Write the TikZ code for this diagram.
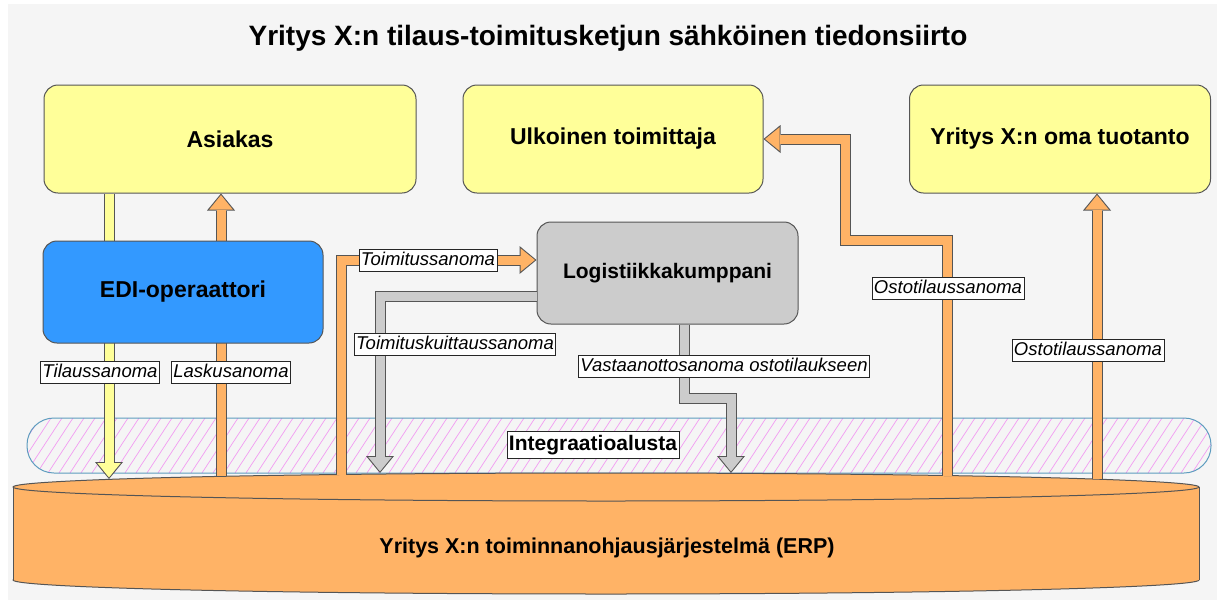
\documentclass[tikz,border=0pt]{standalone}
\usepackage{fontspec}
\setmainfont{Liberation Sans}
\usepackage{xcolor}
\usepackage{tikz}
\usetikzlibrary{arrows.meta}

\definecolor{bggray}{HTML}{F5F5F5}
\definecolor{boxyellow}{HTML}{FFFF99}
\definecolor{boxblue}{HTML}{3399FF}
\definecolor{boxgray}{HTML}{CCCCCC}
\definecolor{erporange}{HTML}{FFB366}
\definecolor{linegray}{HTML}{555555}
\definecolor{bandblue}{HTML}{5E9CBF}
\definecolor{hatchpink}{HTML}{F29CF2}

\tikzset{
	box/.style={draw=linegray, line width=1pt, rounded corners=14pt, font=\fontsize{23}{27}\selectfont\bfseries},
	msg/.style={draw=black!85, fill=white, line width=0.8pt, inner xsep=2pt, inner ysep=2pt, text height=14pt, text depth=4pt, font=\fontsize{18.5}{20}\selectfont\itshape},
	flow/.style={draw=#1, line width=9pt, line join=miter, shorten >=1.6pt,
		-{Triangle[width=23.5pt,length=14.4pt,line width=0pt]},
		preaction={draw=linegray, line width=11pt, shorten >=0pt, -{Triangle[width=28pt,length=17pt,line width=0pt]}}}
}

\begin{document}
\begin{tikzpicture}[x=1pt,y=-1pt]
	\useasboundingbox (0,0) rectangle (1224,600);
	\fill[white] (0,0) rectangle (1224,600);
	\fill[bggray] (8,4) rectangle (1217,600);
	\node[anchor=base, font=\fontsize{28}{30}\selectfont\bfseries] (title) at (608,45) {Yritys X:n tilaus-toimitusketjun sähköinen tiedonsiirto};
	\begin{scope}
		\clip[rounded corners=27pt] (27,418) rectangle (1211,473);
		\foreach \i in {-40,-29,...,1240}
			\draw[hatchpink, line width=0.7pt] (\i,473) -- ++(36,-55);
	\end{scope}
	\draw[draw=bandblue, line width=1pt, rounded corners=27pt] (27,418) rectangle (1211,473);
	\filldraw[fill=erporange, draw=linegray, line width=1pt] (606,580) ellipse [x radius=593, y radius=14];
	\fill[erporange] (13,487) rectangle (1199,580);
	\draw[linegray, line width=1pt] (13,487) -- (13,580) (1199,487) -- (1199,580);
	\filldraw[fill=erporange, draw=linegray, line width=1pt] (606,487) ellipse [x radius=593, y radius=14];
	\node[font=\fontsize{21.5}{25}\selectfont\bfseries] (erp) at (607,548) {Yritys X:n toiminnanohjausjärjestelmä (ERP)};
	\node[box, fill=boxyellow, minimum width=372pt, minimum height=108pt] (asiakas) at (230,139) {Asiakas};
	\node[box, fill=boxyellow, minimum width=300pt, minimum height=108pt] (ulkoinen) at (613,139) {Ulkoinen toimittaja};
	\node[box, fill=boxyellow, minimum width=301pt, minimum height=108pt] (tuotanto) at (1060,139) {Yritys X:n oma tuotanto};
	\coordinate (t1) at (109,479);
	\coordinate (t2) at (221,476);
	\coordinate (t3) at (341,474.5);
	\coordinate (t4) at (380,473);
	\coordinate (t5) at (731,473);
	\coordinate (t6) at (947,475.5);
	\coordinate (t7) at (1097,479);
	\coordinate (v1) at (684,398);
	\coordinate (j1) at (845,240);
	\draw[flow=boxyellow] (asiakas.south -| t1) -- (t1);
	\draw[flow=erporange] (t2) -- (asiakas.south -| t2);
	\node[box, fill=boxblue, minimum width=280pt, minimum height=102pt] (edi) at (183,292) {EDI-operaattori};
	\node[box, fill=boxgray, minimum width=261pt, minimum height=102pt, font=\fontsize{21}{25}\selectfont\bfseries] (logistiikka) at (667.5,273) {Logistiikkakumppani};
	\draw[flow=erporange] (t3) |- ([yshift=13pt]logistiikka.west);
	\draw[flow=boxgray] ([yshift=-23pt]logistiikka.west) -| (t4);
	\draw[flow=boxgray] (logistiikka.south -| v1) -- (v1) -| (t5);
	\draw[flow=erporange] (t6) |- (j1) |- (ulkoinen.east);
	\draw[flow=erporange] (t7) -- (tuotanto.south -| t7);
	\node[msg] (m1) at (100,372) {Tilaussanoma};
	\node[msg] (m2) at (231,372) {Laskusanoma};
	\node[msg] (m3) at (428,260) {Toimitussanoma};
	\node[msg] (m4) at (455,344) {Toimituskuittaussanoma};
	\node[msg] (m5) at (724,366) {Vastaanottosanoma ostotilaukseen};
	\node[msg] (m6) at (948,288) {Ostotilaussanoma};
	\node[msg] (m7) at (1088,350) {Ostotilaussanoma};
	\node[draw=black!85, fill=white, line width=0.8pt, inner xsep=2pt, inner ysep=3.5pt, text height=15pt, text depth=5pt, font=\fontsize{21}{25}\selectfont\bfseries] (alusta) at (593,445) {Integraatioalusta};
\end{tikzpicture}
\end{document}
